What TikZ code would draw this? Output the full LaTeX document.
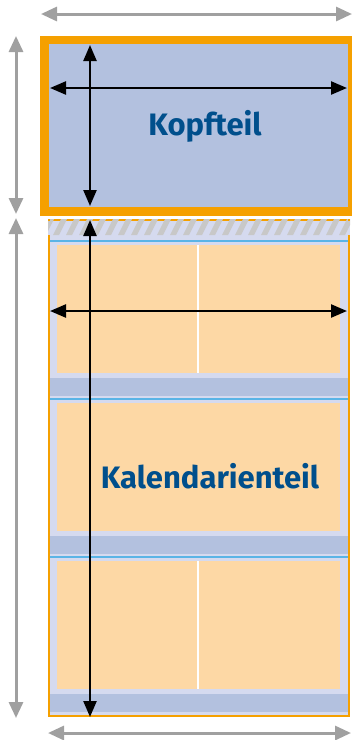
\documentclass[tikz,border=0pt]{standalone}
\usepackage{fontspec}
\setsansfont{Fira Sans}
\usetikzlibrary{arrows.meta, positioning}
\definecolor{frameorange}{HTML}{F5A000}
\definecolor{kopfblue}{HTML}{B3C1DF}
\definecolor{pagelilac}{HTML}{D5DAEF}
\definecolor{blockorange}{HTML}{FDD8A5}
\definecolor{lineblue}{HTML}{5AB4E6}
\definecolor{textblue}{HTML}{004F8C}
\definecolor{hatchgray}{HTML}{C8C8C8}
\definecolor{dimgray}{HTML}{A0A0A0}
\tikzset{
  dimarrow/.style={draw=dimgray, line width=3pt, {Triangle[length=16pt,width=14pt]}-{Triangle[length=16pt,width=14pt]}},
  sizearrow/.style={draw=black, line width=2.4pt, {Triangle[length=16pt,width=13pt]}-{Triangle[length=16pt,width=13pt]}},
  partlabel/.style={font=\sffamily\bfseries\fontsize{31}{31}\selectfont, text=textblue, inner sep=0pt}
}

\begin{document}
\begin{tikzpicture}[x=1pt, y=-1pt]
\useasboundingbox (0,0) rectangle (352,740);

% Kopfteil
\fill[frameorange] (40,36) rectangle (352,216);
\fill[kopfblue] (49,44) rectangle (348,207);

% Kalendarienteil
\fill[pagelilac] (48,219) rectangle (350,717);
\begin{scope}
  \clip (48,219) rectangle (350,235);
  \draw[frameorange, line width=2pt] (48,220) -- (350,220);
  \foreach \i in {0,...,25}
    \fill[hatchgray] (40+\i*13,235) -- ++(6,0) -- ++(8,-16) -- ++(-6,0) -- cycle;
\end{scope}
\foreach \top/\band in {245/378, 403/536, 561/694} {
  \draw[lineblue, line width=1.2pt] (49,\top-4) -- (349,\top-4);
  \fill[blockorange] (57,\top) rectangle (340,\top+128);
  \fill[kopfblue] (49,\band) rectangle (349,\band+18);
}
\draw[white, line width=1.2pt] (198,245) -- (198,373);
\draw[white, line width=1.2pt] (198,561) -- (198,689);
\draw[frameorange, line width=2.2pt] (49,235) -- (49,716) -- (349,716) -- (349,235);
\draw[frameorange, line width=2.2pt] (49,219) -- (49,221) (349,219) -- (349,221);

\node[partlabel] (kopf) at (205,126) {Kopfteil};
\node[partlabel] (kalender) at (210,476) {Kalendarienteil};

% outer dimensions
\coordinate (top l) at (41,14);
\coordinate (top r) at (352,14);
\coordinate (bot l) at (48,733);
\coordinate (bot r) at (351,733);
\coordinate (kopf t) at (16,36);
\coordinate (kopf b) at (16,214);
\coordinate (kal t) at (16,218);
\coordinate (kal b) at (16,718);
\draw[dimarrow] (top l) -- (top r);
\draw[dimarrow] (bot l) -- (bot r);
\draw[dimarrow] (kopf t) -- (kopf b);
\draw[dimarrow] (kal t) -- (kal b);

% inner dimensions
\coordinate (kopf w l) at (50,88);
\coordinate (kopf w r) at (347,88);
\coordinate (kopf h t) at (90,45);
\coordinate (kopf h b) at (90,206);
\coordinate (kal w l) at (50,311);
\coordinate (kal w r) at (347,311);
\coordinate (kal h t) at (90,220);
\coordinate (kal h b) at (90,717);
\draw[sizearrow] (kopf w l) -- (kopf w r);
\draw[sizearrow] (kopf h t) -- (kopf h b);
\draw[sizearrow] (kal w l) -- (kal w r);
\draw[sizearrow] (kal h t) -- (kal h b);
\end{tikzpicture}
\end{document}
